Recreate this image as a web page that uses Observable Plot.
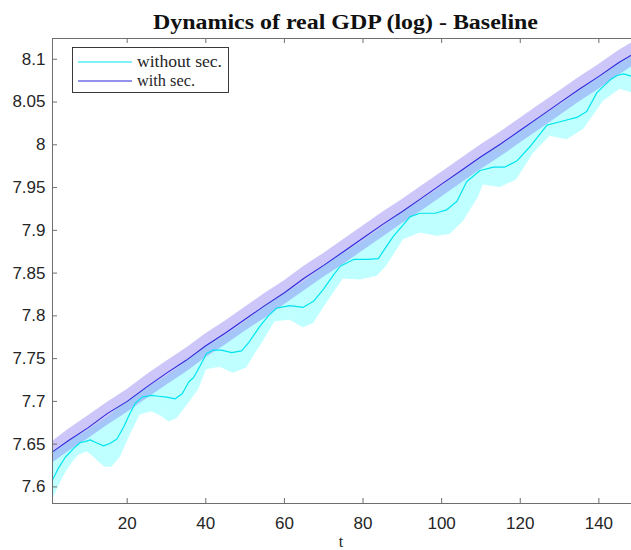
<!DOCTYPE html>
<html><head><meta charset="utf-8">
<script src="https://cdn.jsdelivr.net/npm/d3@7"></script>
<script src="https://cdn.jsdelivr.net/npm/@observablehq/plot@0.6"></script>
<style>body{margin:0;background:#fff}#chart svg{display:block}</style>
</head><body><div id="chart"></div>
<script>
const titleText = "Dynamics of real GDP (log) - Baseline";
const xLabel = "t";
const seriesNames = ["without sec.", "with sec."];
const xTicks = [20, 40, 60, 80, 100, 120, 140];
const yTicks = [7.6, 7.65, 7.7, 7.75, 7.8, 7.85, 7.9, 7.95, 8, 8.05, 8.1];
const xDomain = [1, 148.3];
const yDomain = [7.5806, 8.1243];

// "without sec." mean path
const tWithout = [1, 2.5, 4.3, 6.4, 8.1, 9.3, 10.6, 12, 14, 15.7, 17.4, 19.1, 20.5, 22.1, 23.8, 26.3, 28, 30, 32.2, 34, 35.7, 36.9, 38.6, 40.2, 41.9, 44, 46.6, 49.1, 50.8, 52.3, 53.8, 55.9, 58, 61.4, 64.8, 67.4, 69.9, 72.5, 74.2, 77.6, 81, 83.9, 85.8, 87.7, 92, 94.5, 98.3, 101.3, 103.9, 106.4, 109.8, 113.2, 116.1, 119.1, 122.5, 126.8, 130.1, 134.4, 136.9, 139.5, 142.9, 144.6, 146.3, 148.3];
const withoutSec = [7.608, 7.622, 7.635, 7.645, 7.652, 7.653, 7.655, 7.652, 7.648, 7.651, 7.656, 7.670, 7.684, 7.698, 7.705, 7.707, 7.706, 7.705, 7.703, 7.709, 7.723, 7.728, 7.742, 7.756, 7.760, 7.760, 7.757, 7.759, 7.768, 7.778, 7.788, 7.800, 7.809, 7.812, 7.810, 7.817, 7.831, 7.848, 7.858, 7.866, 7.866, 7.867, 7.880, 7.893, 7.916, 7.920, 7.920, 7.924, 7.934, 7.957, 7.970, 7.974, 7.974, 7.981, 7.998, 8.023, 8.027, 8.032, 8.039, 8.061, 8.076, 8.081, 8.083, 8.080];

// "without sec." confidence band
const tBand = [1, 2.5, 4.3, 6, 7.7, 9.8, 11.5, 13, 14.4, 16.1, 18.3, 20.8, 23.3, 26.3, 28.9, 30.6, 32.7, 35.7, 38.2, 40.2, 43.6, 47, 50.4, 52.5, 54.6, 57.6, 61.4, 64.8, 67.4, 70.8, 75, 79.2, 83.5, 86, 90.3, 94.5, 98.8, 102.1, 105.5, 109.3, 110.6, 114.9, 119.1, 123.4, 127.6, 131.9, 136.1, 141.2, 145.4, 148.3];
const withoutLow = [7.584, 7.600, 7.616, 7.628, 7.637, 7.641, 7.635, 7.628, 7.623, 7.623, 7.635, 7.661, 7.684, 7.688, 7.682, 7.676, 7.680, 7.698, 7.714, 7.737, 7.740, 7.733, 7.739, 7.755, 7.770, 7.793, 7.795, 7.786, 7.791, 7.815, 7.843, 7.842, 7.846, 7.858, 7.889, 7.897, 7.893, 7.895, 7.910, 7.938, 7.953, 7.950, 7.959, 7.990, 8.010, 8.006, 8.018, 8.051, 8.065, 8.061];
const withoutHigh = [7.640, 7.644, 7.649, 7.655, 7.660, 7.665, 7.671, 7.675, 7.679, 7.685, 7.694, 7.702, 7.710, 7.719, 7.726, 7.731, 7.738, 7.749, 7.757, 7.764, 7.773, 7.783, 7.794, 7.802, 7.809, 7.818, 7.829, 7.839, 7.848, 7.860, 7.873, 7.885, 7.899, 7.907, 7.921, 7.934, 7.947, 7.958, 7.969, 7.981, 7.986, 7.998, 8.012, 8.026, 8.039, 8.052, 8.066, 8.082, 8.095, 8.102];

// "with sec." mean path and band
const tWith = [1, 5, 10, 15, 20, 25, 30, 35, 40, 45, 50, 55, 60, 65, 70, 75, 80, 85, 90, 95, 100, 105, 110, 115, 120, 125, 130, 135, 140, 145, 148.3];
const withSec = [7.641, 7.654, 7.669, 7.686, 7.700, 7.717, 7.733, 7.748, 7.765, 7.780, 7.796, 7.812, 7.827, 7.844, 7.859, 7.875, 7.891, 7.907, 7.922, 7.938, 7.954, 7.970, 7.986, 8.001, 8.017, 8.033, 8.049, 8.065, 8.080, 8.096, 8.105];
const withLow = [7.628, 7.641, 7.656, 7.672, 7.687, 7.703, 7.719, 7.734, 7.751, 7.766, 7.782, 7.797, 7.813, 7.829, 7.845, 7.860, 7.876, 7.892, 7.908, 7.923, 7.939, 7.955, 7.971, 7.986, 8.002, 8.018, 8.034, 8.050, 8.065, 8.081, 8.091];
const withHigh = [7.653, 7.667, 7.683, 7.699, 7.714, 7.731, 7.747, 7.762, 7.779, 7.794, 7.810, 7.826, 7.841, 7.858, 7.873, 7.889, 7.905, 7.921, 7.936, 7.952, 7.968, 7.984, 8.000, 8.015, 8.031, 8.047, 8.063, 8.079, 8.094, 8.110, 8.119];

const cyanLine = "#00e4f0", blueLine = "#2a2ade";

const lineWithout = tWithout.map((t, i) => ({t, v: withoutSec[i]}));
const bandWithout = tBand.map((t, i) => ({t, lo: withoutLow[i], hi: withoutHigh[i]}));
const lineWith = tWith.map((t, i) => ({t, v: withSec[i], lo: withLow[i], hi: withHigh[i]}));

const W = 631, H = 550, mL = 52, mR = 0, mT = 38, mB = 47;
const frameH = H - mT - mB, frameW = W - mL - mR;
const axisColor = "#6e6e6e";

const svg = Plot.plot({
  width: W, height: H,
  marginLeft: mL, marginRight: mR, marginTop: mT, marginBottom: mB,
  style: {fontFamily: "'Liberation Sans', Arial, sans-serif", color: "#262626", background: "#fff"},
  x: {domain: xDomain},
  y: {domain: yDomain},
  marks: [
    Plot.areaY(bandWithout, {x: "t", y1: "lo", y2: "hi", fill: "#00ffff", fillOpacity: 0.25, clip: true}),
    Plot.areaY(lineWith, {x: "t", y1: "lo", y2: "hi", fill: "#8070f0", fillOpacity: 0.4, clip: true}),
    Plot.line(lineWithout, {x: "t", y: "v", stroke: cyanLine, strokeWidth: 1.2, clip: true}),
    Plot.line(lineWith, {x: "t", y: "v", stroke: blueLine, strokeWidth: 1.1, clip: true}),
    Plot.ruleX([xDomain[0]], {stroke: axisColor}),
    Plot.ruleY([yDomain[0], yDomain[1]], {stroke: axisColor}),
    Plot.tickX(xTicks, {x: d => d, stroke: axisColor, insetTop: frameH - 5}),
    Plot.tickX(xTicks, {x: d => d, stroke: axisColor, insetBottom: frameH - 5}),
    Plot.tickY(yTicks, {y: d => d, stroke: axisColor, insetRight: frameW - 5}),
    Plot.axisX(xTicks, {tickSize: 0, tickPadding: 13, fontSize: 17, label: null, fill: "#262626"}),
    Plot.axisY(yTicks, {tickSize: 0, tickPadding: 7, fontSize: 17, label: null, fill: "#262626", tickFormat: d => String(d)})
  ]
});

const s = d3.select(svg);
s.append("text")
  .attr("x", 345.5).attr("y", 29)
  .attr("text-anchor", "middle")
  .attr("font-family", "'Liberation Serif', 'Times New Roman', serif")
  .attr("font-weight", "bold").attr("font-size", 20)
  .attr("fill", "#111")
  .attr("textLength", 385).attr("lengthAdjust", "spacingAndGlyphs")
  .text(titleText);

s.append("text")
  .attr("x", 341).attr("y", 547)
  .attr("text-anchor", "middle")
  .attr("font-family", "'Liberation Serif', 'Times New Roman', serif")
  .attr("font-size", 16).attr("fill", "#262626")
  .text(xLabel);

const lg = s.append("g");
lg.append("rect").attr("x", 72.5).attr("y", 47.5).attr("width", 156).attr("height", 45)
  .attr("fill", "#fff").attr("stroke", "#262626").attr("stroke-width", 0.9);
const legendColors = [cyanLine, blueLine];
const legendWidths = [85, 58];
seriesNames.forEach((name, i) => {
  const y = 62 + i * 19;
  lg.append("line").attr("x1", 78).attr("x2", 132).attr("y1", y).attr("y2", y)
    .attr("stroke", legendColors[i]).attr("stroke-width", 1.2);
  lg.append("text").attr("x", 137).attr("y", y + 5)
    .attr("text-anchor", "start")
    .attr("font-family", "'Liberation Serif', 'Times New Roman', serif")
    .attr("font-size", 16).attr("fill", "#262626")
    .attr("textLength", legendWidths[i]).attr("lengthAdjust", "spacingAndGlyphs")
    .text(name);
});

document.getElementById("chart").appendChild(svg);
</script>
</body></html>
